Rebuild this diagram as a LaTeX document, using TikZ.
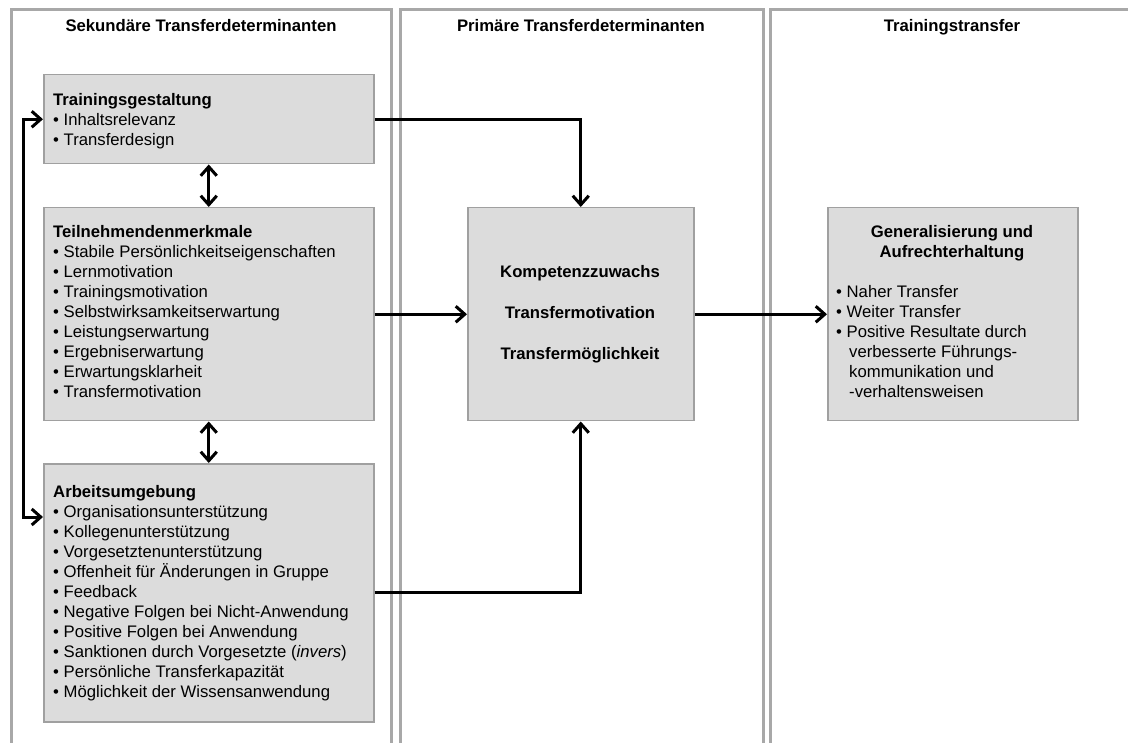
\documentclass[tikz,border=0pt]{standalone}
\usepackage{fontspec}
\setmainfont{Liberation Sans}
\usetikzlibrary{arrows.meta}
\definecolor{boxfill}{HTML}{DCDCDC}
\definecolor{boxline}{HTML}{A0A0A0}
\definecolor{colline}{HTML}{A8A8A8}

\begin{document}
\begin{tikzpicture}[x=1pt,y=-1pt,
  every node/.style={font=\fontsize{16.7}{20}\selectfont, inner sep=0pt},
  panel/.style={draw=boxline, fill=boxfill, line width=1.5pt, anchor=north west},
  column/.style={draw=colline, line width=3pt},
  tip/.tip={Straight Barb[length=9pt,width=16pt]},
  flow/.style={line width=3pt, -tip},
  flows/.style={line width=3pt, tip-tip},
  txt/.style={anchor=base west},
  ctr/.style={anchor=base},
  bold/.style={font=\fontsize{16.7}{20}\selectfont\bfseries},
]
\useasboundingbox (0,0) rectangle (1128,743);
\fill[white] (0,0) rectangle (1128,743);
\clip (0,0) rectangle (1128,743);

% three columns
\draw[column] (11,760) -- (11,10) -- (391,10) -- (391,760);
\draw[column] (400,760) -- (400,10) -- (763,10) -- (763,760);
\draw[column] (770,760) -- (770,10) -- (1140,10);

\node[bold, ctr] (h1) at (201,32) {Sekundäre Transferdeterminanten};
\node[bold, ctr] (h2) at (581,32) {Primäre Transferdeterminanten};
\node[bold, ctr] (h3) at (952,32) {Trainingstransfer};

% boxes
\node[panel, minimum width=330, minimum height=89]  (tg) at (43,74) {};
\node[panel, minimum width=330, minimum height=213] (tm) at (43,207) {};
\node[panel, minimum width=330, minimum height=258] (au) at (43,463) {};
\node[panel, minimum width=226, minimum height=213] (pt) at (467,207) {};
\node[panel, minimum width=250, minimum height=213] (tt) at (827,207) {};

% Trainingsgestaltung
\node[bold, txt] (tg0) at (53,106) {Trainingsgestaltung};
\foreach \t [count=\i] in {Inhaltsrelevanz, Transferdesign}
  \node[txt] (tg\i) at (53,106+20*\i) {• \t};

% Teilnehmendenmerkmale
\node[bold, txt] (tm0) at (53,238) {Teilnehmendenmerkmale};
\foreach \t [count=\i] in {Stabile Persönlichkeitseigenschaften, Lernmotivation,
    Trainingsmotivation, Selbstwirksamkeitserwartung, Leistungserwartung,
    Ergebniserwartung, Erwartungsklarheit, Transfermotivation}
  \node[txt] (tm\i) at (53,238+20*\i) {• \t};

% Arbeitsumgebung
\node[bold, txt] (au0) at (53,497) {Arbeitsumgebung};
\foreach \t [count=\i] in {Organisationsunterstützung, Kollegenunterstützung,
    Vorgesetztenunterstützung, Offenheit für Änderungen in Gruppe, Feedback,
    Negative Folgen bei Nicht-Anwendung, Positive Folgen bei Anwendung,
    {Sanktionen durch Vorgesetzte (\textit{invers})}, Persönliche Transferkapazität,
    Möglichkeit der Wissensanwendung}
  \node[txt] (au\i) at (53,497+20*\i) {• \t};

% primary determinants
\node[bold, ctr] (pt1) at (580,278) {Kompetenzzuwachs};
\node[bold, ctr] (pt2) at (580,319) {Transfermotivation};
\node[bold, ctr] (pt3) at (580,360) {Transfermöglichkeit};

% training transfer
\node[bold, ctr] (tt1) at (952,238) {Generalisierung und};
\node[bold, ctr] (tt2) at (952,258) {Aufrechterhaltung};
\node[txt] (tt3) at (836,298) {• Naher Transfer};
\node[txt] (tt4) at (836,318) {• Weiter Transfer};
\node[txt] (tt5) at (836,338) {• Positive Resultate durch};
\node[txt] (tt6) at (849,358) {verbesserte Führungs-};
\node[txt] (tt7) at (849,378) {kommunikation und};
\node[txt] (tt8) at (849,398) {-verhaltensweisen};

% connectors
\draw[flow] (tg.east) -| (pt.north);
\draw[flow] (au.east) -| (pt.south);
\draw[flow] (tm.east) -- (pt.west);
\draw[flow] (pt.east) -- (tt.west);
\draw[flows] (tg.south) -- (tm.north);
\draw[flows] (tm.south) -- (au.north);
\draw[flows] (tg.west) -- ++(-20,0) |- ([yshift=-54pt]au.north west);
\end{tikzpicture}
\end{document}
